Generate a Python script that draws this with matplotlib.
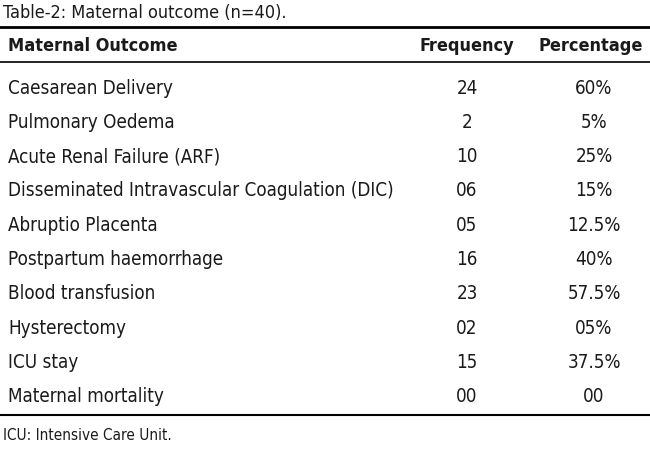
import matplotlib

matplotlib.use("Agg")

import matplotlib.pyplot as plt

outcomes = [
    "Caesarean Delivery",
    "Pulmonary Oedema",
    "Acute Renal Failure (ARF)",
    "Disseminated Intravascular Coagulation (DIC)",
    "Abruptio Placenta",
    "Postpartum haemorrhage",
    "Blood transfusion",
    "Hysterectomy",
    "ICU stay",
    "Maternal mortality",
]
frequency = ["24", "2", "10", "06", "05", "16", "23", "02", "15", "00"]
percentage = ["60%", "5%", "25%", "15%", "12.5%", "40%", "57.5%", "05%", "37.5%", "00"]

title = "Table-2: Maternal outcome (n=40)."
headers = ["Maternal Outcome", "Frequency", "Percentage"]
footnote = "ICU: Intensive Care Unit."

FONT = dict(family="DejaVu Sans", fontstretch="condensed", color="#1a1a1a")
SIZE = 13.5

fig = plt.figure(figsize=(6.5, 4.5), dpi=100)
ax = fig.add_axes([0, 0, 1, 1])
ax.set_xlim(0, 650)
ax.set_ylim(450, 0)
ax.axis("off")

ax.text(3, 13, title, fontsize=13, va="center", ha="left", **FONT)
ax.axhline(27, color="black", lw=2)

ax.text(8, 46, headers[0], fontsize=13, fontweight="bold", va="center", ha="left", **FONT)
ax.text(467, 46, headers[1], fontsize=13, fontweight="bold", va="center", ha="center", **FONT)
ax.text(591, 46, headers[2], fontsize=13, fontweight="bold", va="center", ha="center", **FONT)
ax.axhline(62, color="black", lw=1.2)

row_y0, row_step = 88, 34.3
for i, (name, f, p) in enumerate(zip(outcomes, frequency, percentage)):
    y = row_y0 + i * row_step
    ax.text(8, y, name, fontsize=SIZE, va="center", ha="left", **FONT)
    ax.text(467, y, f, fontsize=SIZE, va="center", ha="center", **FONT)
    ax.text(594, y, p, fontsize=SIZE, va="center", ha="center", **FONT)

ax.axhline(415, color="black", lw=1.5)
ax.text(3, 435, footnote, fontsize=11, va="center", ha="left", **FONT)

fig.savefig("out.png", dpi=100)
